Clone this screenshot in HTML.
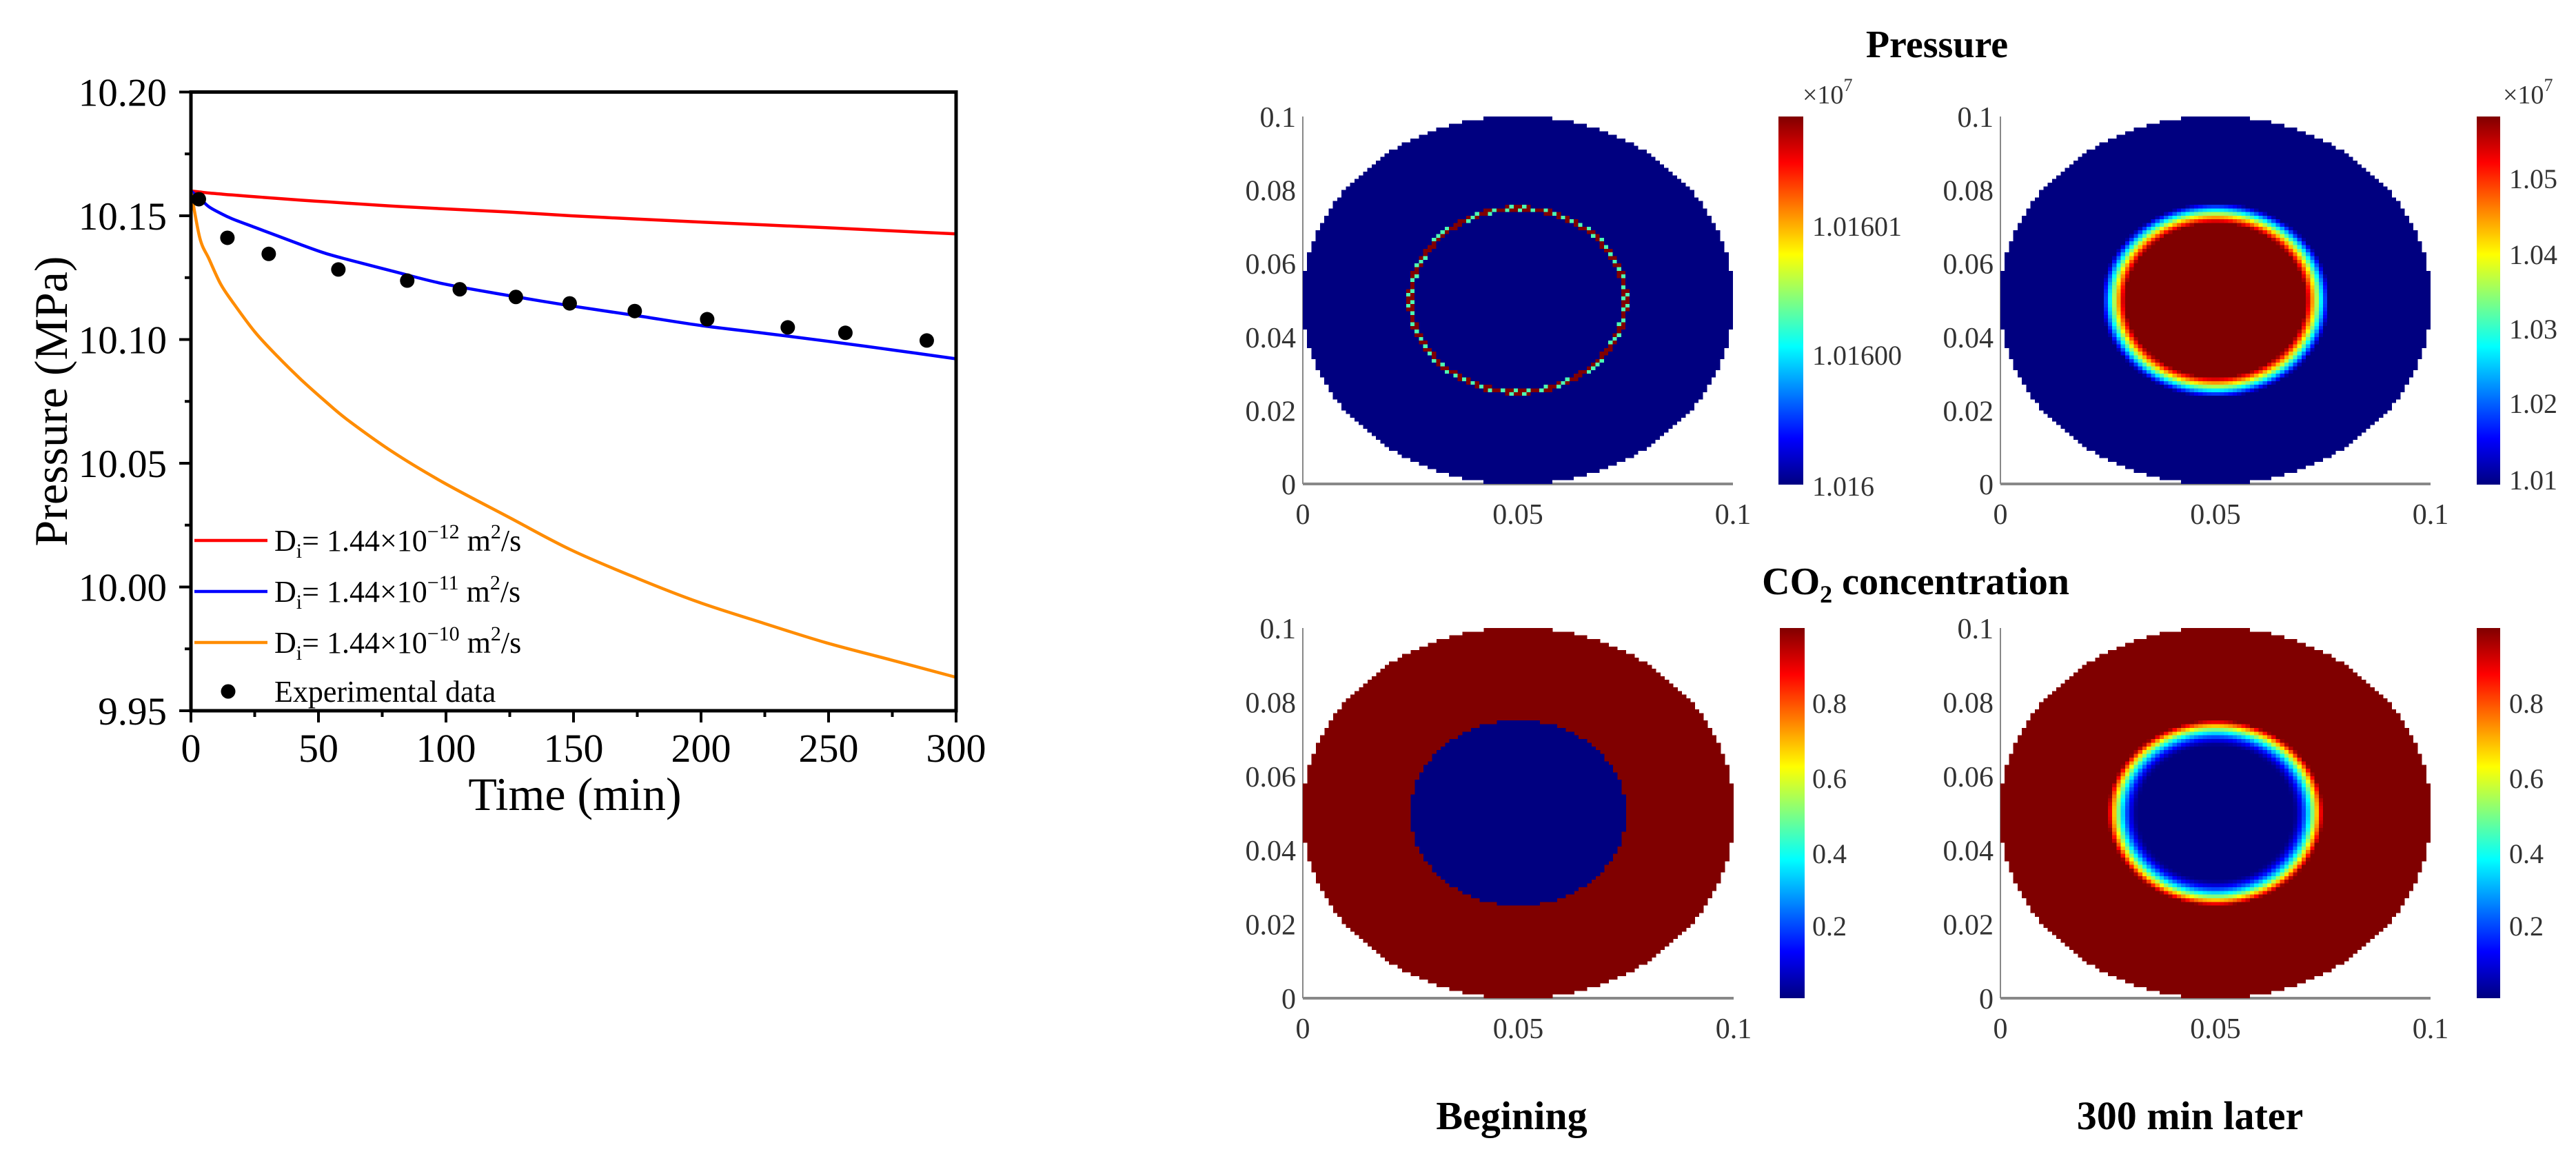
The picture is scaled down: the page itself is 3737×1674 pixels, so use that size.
<!DOCTYPE html>
<html><head><meta charset="utf-8">
<style>
html,body{margin:0;padding:0;background:#fff;}
#root{position:relative;width:3737px;height:1674px;overflow:hidden;background:#fff;font-family:"Liberation Serif",serif;}
svg{position:absolute;left:0;top:0;}
canvas.hm{position:absolute;image-rendering:pixelated;image-rendering:crisp-edges;}
</style></head>
<body>
<div id="root">
<svg id="chart" width="3737" height="1674" viewBox="0 0 3737 1674">
  <defs>
    <linearGradient id="jetgrad" x1="0" y1="1" x2="0" y2="0">
      <stop offset="0" stop-color="#000080"/>
      <stop offset="0.125" stop-color="#0000ff"/>
      <stop offset="0.375" stop-color="#00ffff"/>
      <stop offset="0.5" stop-color="#80ff80"/>
      <stop offset="0.625" stop-color="#ffff00"/>
      <stop offset="0.875" stop-color="#ff0000"/>
      <stop offset="1" stop-color="#800000"/>
    </linearGradient>
    <clipPath id="cbclip"><rect x="2600" y="150" width="158" height="600"/></clipPath>
  </defs>
  <g id="leftplot"></g>

  <text x="2810" y="83" font-size="56" font-weight="bold" text-anchor="middle">Pressure</text>
  <text x="2779" y="862" font-size="56" font-weight="bold" text-anchor="middle">CO<tspan font-size="36" dy="12">2</tspan><tspan dy="-12"> concentration</tspan></text>
  <text x="2193" y="1638" font-size="58" font-weight="bold" text-anchor="middle">Begining</text>
  <text x="3177" y="1638" font-size="58" font-weight="bold" text-anchor="middle">300 min later</text>

  <g id="heataxes"></g>

  <rect x="2580" y="169" width="36" height="534" fill="url(#jetgrad)"/>
  <rect x="3593" y="169" width="34" height="534" fill="url(#jetgrad)"/>
  <rect x="2582" y="911" width="36" height="537" fill="url(#jetgrad)"/>
  <rect x="3593" y="911" width="34" height="537" fill="url(#jetgrad)"/>

  <g font-size="40" fill="#333">
    <text x="2615" y="150" font-size="38">×10<tspan font-size="26" dy="-18">7</tspan></text>
    <text x="3631" y="150" font-size="38">×10<tspan font-size="26" dy="-18">7</tspan></text>
    <g clip-path="url(#cbclip)">
      <text x="2629" y="342">1.01601</text>
      <text x="2629" y="529">1.01600</text>
      <text x="2629" y="719">1.016</text>
    </g>
    <text x="3640" y="273">1.05</text>
    <text x="3640" y="383">1.04</text>
    <text x="3640" y="491">1.03</text>
    <text x="3640" y="599">1.02</text>
    <text x="3640" y="710">1.01</text>
    <text x="2629" y="1034">0.8</text>
    <text x="2629" y="1143">0.6</text>
    <text x="2629" y="1252">0.4</text>
    <text x="2629" y="1357">0.2</text>
    <text x="3640" y="1034">0.8</text>
    <text x="3640" y="1143">0.6</text>
    <text x="3640" y="1252">0.4</text>
    <text x="3640" y="1357">0.2</text>
  </g>
</svg>
<canvas class="hm" id="hm0" width="100" height="100" style="left:1890px;top:169px;width:624px;height:533px;"></canvas>
<canvas class="hm" id="hm1" width="100" height="100" style="left:2902px;top:169px;width:624px;height:533px;"></canvas>
<canvas class="hm" id="hm2" width="100" height="100" style="left:1890px;top:911px;width:625px;height:537px;"></canvas>
<canvas class="hm" id="hm3" width="100" height="100" style="left:2902px;top:911px;width:624px;height:537px;"></canvas>
</div>
<script>
const curveTimes = [0, 3.5, 7.1, 11.6, 16.1, 25.1, 34.1, 43.2, 52.2, 61.2, 79.2, 99, 125, 149, 175, 199, 225, 249, 275, 300];
const orangeVals = [10.160, 10.1410, 10.1325, 10.1225, 10.1155, 10.1030, 10.0930, 10.0838, 10.0755, 10.0677, 10.0545, 10.0422, 10.0280, 10.0150, 10.0035, 9.9939, 9.9852, 9.9775, 9.9704, 9.9635];
const blueVals   = [10.160, 10.1570, 10.1536, 10.1510, 10.1488, 10.1453, 10.1418, 10.1383, 10.1350, 10.1324, 10.1276, 10.1225, 10.1177, 10.1136, 10.1096, 10.1058, 10.1025, 10.0994, 10.0958, 10.0922];
const redVals    = [10.160, 10.1596, 10.1592, 10.1588, 10.1584, 10.1577, 10.1570, 10.1563, 10.1557, 10.1551, 10.1539, 10.1528, 10.1515, 10.1500, 10.1487, 10.1475, 10.1463, 10.1452, 10.1439, 10.1427];
const expTimes = [3.1, 14.3, 30.5, 57.8, 84.8, 105.4, 127.4, 148.5, 174, 202.4, 234, 256.6, 288.5];
const expVals  = [10.1567, 10.1411, 10.1346, 10.1283, 10.1238, 10.1203, 10.1172, 10.1146, 10.1115, 10.1082, 10.1049, 10.1027, 10.0996];
const xTickVals = [0, 50, 100, 150, 200, 250, 300];
const yTickVals = [9.95, 10.00, 10.05, 10.10, 10.15, 10.20];
const yTickLabels = ["9.95", "10.00", "10.05", "10.10", "10.15", "10.20"];

const innerRadius = [0.025, 0.0265, 0.025, 0.025];
const transitionWidth = [0.0007, 0.0055, 0, 0.007];
const heatXTicks = [0, 0.05, 0.1];
const heatXTickLabels = ["0", "0.05", "0.1"];
const heatYTicks = [0, 0.02, 0.04, 0.06, 0.08, 0.1];
const heatYTickLabels = ["0", "0.02", "0.04", "0.06", "0.08", "0.1"];

const NS = "http://www.w3.org/2000/svg";
function mk(tag, attrs, parent){ const e=document.createElementNS(NS,tag); for(const k in attrs) e.setAttribute(k, attrs[k]); parent.appendChild(e); return e; }

const X0=277, X1=1387, YT=133.5, YB=1031;
function sx(t){ return X0 + (t-0)/(300-0)*(X1-X0); }
function sy(v){ return YB - (v-9.95)/(10.20-9.95)*(YB-YT); }

const g = document.getElementById('leftplot');
function smoothPath(pts){
  let d = "M"+pts[0][0].toFixed(1)+","+pts[0][1].toFixed(1);
  for(let i=0;i<pts.length-1;i++){
    const p0 = pts[Math.max(0,i-1)], p1 = pts[i], p2 = pts[i+1], p3 = pts[Math.min(pts.length-1,i+2)];
    const c1x = p1[0]+(p2[0]-p0[0])/6, c1y = p1[1]+(p2[1]-p0[1])/6;
    const c2x = p2[0]-(p3[0]-p1[0])/6, c2y = p2[1]-(p3[1]-p1[1])/6;
    d += "C"+c1x.toFixed(1)+","+c1y.toFixed(1)+" "+c2x.toFixed(1)+","+c2y.toFixed(1)+" "+p2[0].toFixed(1)+","+p2[1].toFixed(1);
  }
  return d;
}
function drawCurve(vals, color, name){
  const pts = curveTimes.map(function(t,i){ return [sx(t), sy(vals[i])]; });
  const p = mk('path',{d:smoothPath(pts), fill:'none', stroke:color, 'stroke-width':4.5, 'stroke-linejoin':'round'}, g);
  
  
}
drawCurve(redVals, '#ff0000', 'red-curve-1e-12');
drawCurve(blueVals, '#0000ff', 'blue-curve-1e-11');
drawCurve(orangeVals, '#ff8c00', 'orange-curve-1e-10');
for(let i=0;i<expTimes.length;i++){
  const c = mk('circle',{cx:sx(expTimes[i]), cy:sy(expVals[i]), r:10.5, fill:'#000'}, g);
  
  
}
const box = mk('rect',{x:X0, y:YT, width:X1-X0, height:YB-YT, fill:'none', stroke:'#000', 'stroke-width':5}, g);


for(let t=0;t<=300;t+=25){
  const major = (t%50===0);
  const l = mk('line',{x1:sx(t), x2:sx(t), y1:YB, y2:YB+(major?17:9), stroke:'#000','stroke-width':4}, g);
  
  
}
for(let i=0;i<xTickVals.length;i++){
  const tx = mk('text',{x:sx(xTickVals[i]), y:1105, 'font-size':58, 'text-anchor':'middle'}, g);
  tx.textContent = String(xTickVals[i]);
  
  
}
for(let k=0;k<=10;k++){
  const v = 9.95 + k*0.025;
  const major = (k%2===0);
  const l = mk('line',{x1:X0-(major?17:9), x2:X0, y1:sy(v), y2:sy(v), stroke:'#000','stroke-width':4}, g);
  
  
}
for(let i=0;i<yTickVals.length;i++){
  const tx = mk('text',{x:242, y:sy(yTickVals[i])+20, 'font-size':57, 'text-anchor':'end'}, g);
  tx.textContent = yTickLabels[i];
  
  
}
const xt = mk('text',{x:834, y:1175, 'font-size':68, 'text-anchor':'middle'}, g);
xt.textContent = "Time (min)";


const yt = mk('text',{x:0, y:0, 'font-size':68, 'text-anchor':'middle', transform:'translate(97,582) rotate(-90)'}, g);
yt.textContent = "Pressure (MPa)";



const legColors = ['#ff0000','#0000ff','#ff8c00'];
const legExp = ['−12','−11','−10'];
const legY = [784, 858, 932];
for(let i=0;i<3;i++){
  const l = mk('line',{x1:282, x2:388, y1:legY[i], y2:legY[i], stroke:legColors[i], 'stroke-width':4.5}, g);
  
  
  const t = mk('text',{x:398, y:legY[i]+15, 'font-size':44}, g);
  t.innerHTML = 'D<tspan font-size="30" dy="10">i</tspan><tspan dy="-10">= 1.44×10</tspan><tspan font-size="30" dy="-18">'+legExp[i]+'</tspan><tspan dy="18"> m</tspan><tspan font-size="30" dy="-18">2</tspan><tspan dy="18">/s</tspan>';
  
  
}
const ld = mk('circle',{cx:331, cy:1003, r:10.5, fill:'#000'}, g);


const lt = mk('text',{x:398, y:1018, 'font-size':44}, g);
lt.textContent = "Experimental data";



const panels = [
  {x0:1890, x1:2514, y0:169, y1:702},
  {x0:2902, x1:3526, y0:169, y1:702},
  {x0:1890, x1:2515, y0:911, y1:1448},
  {x0:2902, x1:3526, y0:911, y1:1448}
];
const ha = document.getElementById('heataxes');
panels.forEach(function(p){
  const vl = mk('line',{x1:p.x0, x2:p.x0, y1:p.y0, y2:p.y1, stroke:'#888','stroke-width':2}, ha);
  
  
  const hl = mk('line',{x1:p.x0, x2:p.x1, y1:p.y1, y2:p.y1, stroke:'#888','stroke-width':4}, ha);
  
  
  for(let i=0;i<heatXTicks.length;i++){
    const t = mk('text',{x:p.x0+heatXTicks[i]/0.1*(p.x1-p.x0), y:p.y1+58, 'font-size':42, 'text-anchor':'middle', fill:'#333'}, ha);
    t.textContent = heatXTickLabels[i];
    
    
  }
  for(let i=0;i<heatYTicks.length;i++){
    const yy = p.y1 - heatYTicks[i]/0.1*(p.y1-p.y0);
    const t = mk('text',{x:p.x0-10, y:yy+15, 'font-size':42, 'text-anchor':'end', fill:'#333'}, ha);
    t.textContent = heatYTickLabels[i];
    
    
  }
});

function clamp(v){ return v<0?0:(v>1?1:v); }
function jet(v){
  return [clamp(1.5-Math.abs(4*v-3))*255, clamp(1.5-Math.abs(4*v-2))*255, clamp(1.5-Math.abs(4*v-1))*255];
}
function fieldValue(k, r, i, j){
  const R = innerRadius[k], w = transitionWidth[k];
  if(k===0){
    if(Math.abs(r-R) < 0.0007) return ((i+j)%3===0) ? 0.45 : 1;
    return 0;
  }
  if(k===1){ return clamp((R - r)/w); }
  if(k===2){ return r < R ? 0 : 1; }
  if(r >= R) return 1;
  const t = clamp((r-(R-w))/w);
  return Math.pow(t, 1.6);
}
for(let k=0;k<4;k++){
  const cv = document.getElementById('hm'+k);
  const ctx = cv.getContext('2d');
  const img = ctx.createImageData(100,100);
  for(let j=0;j<100;j++){
    for(let i=0;i<100;i++){
      const x = (i+0.5)/100*0.1, y = (99-j+0.5)/100*0.1;
      const r = Math.hypot(x-0.05, y-0.05);
      const idx = (j*100+i)*4;
      if(r > 0.0502){ img.data[idx]=255; img.data[idx+1]=255; img.data[idx+2]=255; img.data[idx+3]=0; continue; }
      const c = jet(fieldValue(k, r, i, j));
      img.data[idx]=c[0]; img.data[idx+1]=c[1]; img.data[idx+2]=c[2]; img.data[idx+3]=255;
    }
  }
  ctx.putImageData(img,0,0);
}
</script>
</body></html>
